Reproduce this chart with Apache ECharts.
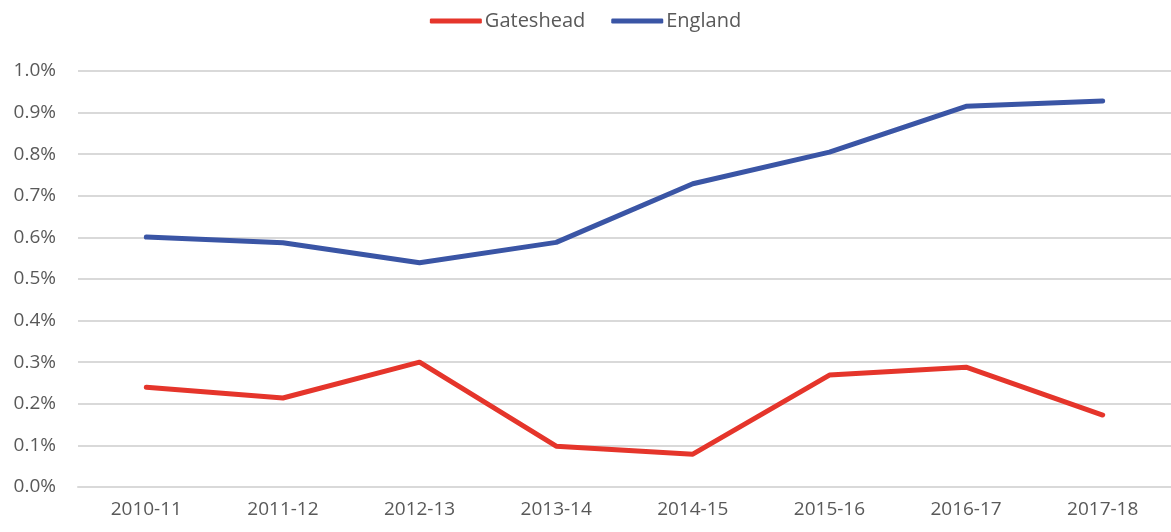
<!DOCTYPE html>
<html>
<head>
<meta charset="utf-8">
<script src="https://cdn.jsdelivr.net/npm/echarts@6/dist/echarts.min.js"></script>
<style>
  html, body { margin: 0; padding: 0; background: #fff; }
  #chart { width: 1171px; height: 532px; }
</style>
</head>
<body>
<div id="chart"></div>
<script>
const years = ['2010-11', '2011-12', '2012-13', '2013-14', '2014-15', '2015-16', '2016-17', '2017-18']
const gateshead = [0.240, 0.214, 0.300, 0.098, 0.079, 0.269, 0.288, 0.173]
const england = [0.601, 0.587, 0.539, 0.588, 0.729, 0.805, 0.915, 0.928]

const font = 'Open Sans, Lato, sans-serif'
const chart = echarts.init(document.getElementById('chart'))
chart.setOption({
  animation: false,
  legend: {
    top: 6,
    left: 'center',
    itemWidth: 52,
    itemHeight: 5,
    itemGap: 26,
    icon: 'roundRect',
    textStyle: { fontFamily: font, fontSize: 20, color: '#595959', padding: [0, 0, 0, -2] },
    data: ['Gateshead', 'England']
  },
  grid: { left: 78, right: -2, top: 71, bottom: 45 },
  xAxis: {
    type: 'category',
    data: years,
    boundaryGap: true,
    axisLine: { lineStyle: { color: '#d9d9d9', width: 2 } },
    axisTick: { show: false },
    axisLabel: { fontFamily: font, fontSize: 19, color: '#595959', margin: 13 }
  },
  yAxis: {
    type: 'value',
    min: 0,
    max: 1,
    interval: 0.1,
    axisLine: { show: false },
    axisTick: { show: false },
    splitLine: { lineStyle: { color: '#d9d9d9', width: 2 } },
    axisLabel: {
      fontFamily: font, fontSize: 19, color: '#595959', margin: 22,
      formatter: v => v.toFixed(1) + '%'
    }
  },
  series: [
    {
      name: 'Gateshead',
      type: 'line',
      data: gateshead,
      symbol: 'none',
      color: '#e5352b',
      lineStyle: { width: 5, cap: 'round', join: 'round' }
    },
    {
      name: 'England',
      type: 'line',
      data: england,
      symbol: 'none',
      color: '#3a55a5',
      lineStyle: { width: 5, cap: 'round', join: 'round' }
    }
  ]
})
</script>
</body>
</html>
